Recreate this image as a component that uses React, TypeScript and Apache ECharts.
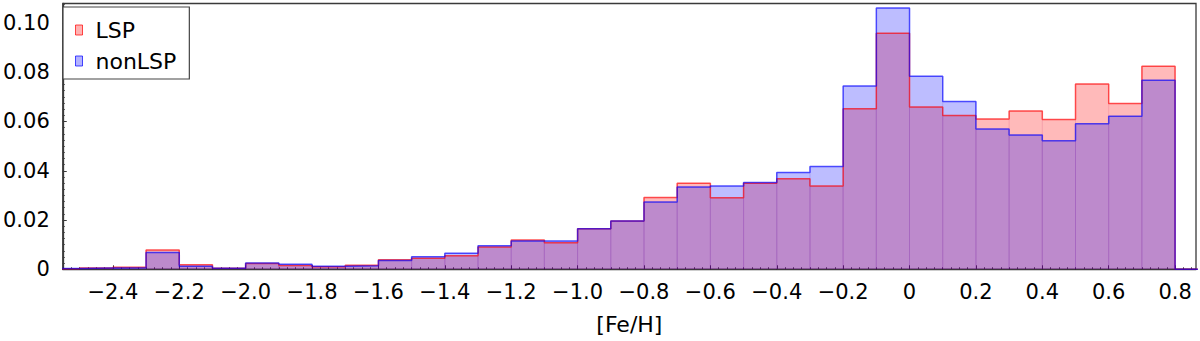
import React, { useEffect, useRef } from "react";
import * as echarts from "echarts";

// Histogram bins: left edges (width 0.1), normalised frequency
const binWidth = 0.1;
const binLeftEdges = [
  -2.6, -2.5, -2.4, -2.3, -2.2, -2.1, -2.0, -1.9, -1.8, -1.7, -1.6, -1.5,
  -1.4, -1.3, -1.2, -1.1, -1.0, -0.9, -0.8, -0.7, -0.6, -0.5, -0.4, -0.3,
  -0.2, -0.1, 0.0, 0.1, 0.2, 0.3, 0.4, 0.5, 0.6, 0.7, 0.8,
];
const lspValues = [
  0.0002, 0.0005, 0.0008, 0.0078, 0.0018, 0.0004, 0.0024, 0.0015, 0.001,
  0.0016, 0.0039, 0.0045, 0.0055, 0.0091, 0.0119, 0.0108, 0.0165, 0.0196,
  0.0291, 0.0349, 0.029, 0.0349, 0.0368, 0.0338, 0.0652, 0.0958, 0.0659,
  0.0624, 0.061, 0.0643, 0.0608, 0.0752, 0.0673, 0.0824, 0,
];
const nonLspValues = [
  0.0003, 0.0005, 0.0006, 0.0068, 0.0012, 0.0004, 0.0026, 0.002, 0.0012,
  0.0014, 0.0036, 0.0051, 0.0065, 0.0096, 0.0115, 0.0115, 0.0165, 0.0196,
  0.0273, 0.0334, 0.0338, 0.0352, 0.0393, 0.0417, 0.0744, 0.1061, 0.0784,
  0.0681, 0.057, 0.0545, 0.0522, 0.0591, 0.0621, 0.0767, 0,
];

const xTickValues = [-2.4, -2.2, -2.0, -1.8, -1.6, -1.4, -1.2, -1.0, -0.8, -0.6, -0.4, -0.2, 0, 0.2, 0.4, 0.6, 0.8];
const yTickValues = [0, 0.02, 0.04, 0.06, 0.08, 0.1];

const X_MIN = -2.551;
const X_MAX = 0.863;
const Y_MIN = 0;
const Y_MAX = 0.1079;

const FONT = "DejaVu Sans";
const AXIS_COLOR = "#3a3a3a";

function fmtX(v: number) {
  if (Math.abs(v) < 1e-9) return "0";
  const s = Math.abs(v).toFixed(1);
  return v < 0 ? "\u2212" + s : s;
}
function fmtY(v: number) {
  if (Math.abs(v) < 1e-12) return "0";
  return v.toFixed(2);
}

function minorTicks(lo: number, hi: number, step: number) {
  const out: number[] = [];
  const start = Math.ceil(lo / step);
  const end = Math.floor(hi / step);
  for (let k = start; k <= end; k++) out.push(+(k * step).toFixed(6));
  return out;
}

function rectSeries(name: string, values: number[], fill: string, stroke: string) {
  return {
    type: "custom",
    name,
    clip: true,
    silent: true,
    encode: { x: [0, 1], y: 2 },
    data: binLeftEdges.map((e, i) => [e, e + binWidth, values[i]]),
    renderItem: (params: any, api: any) => {
      const p0 = api.coord([api.value(0), api.value(2)]);
      const p1 = api.coord([api.value(1), 0]);
      return {
        type: "rect",
        shape: { x: p0[0], y: p0[1], width: p1[0] - p0[0], height: p1[1] - p0[1] },
        style: { fill, stroke, lineWidth: 1 },
      };
    },
  };
}

function stepSeries(name: string, values: number[], color: string) {
  const pts = binLeftEdges.map((e, i) => [e, values[i]]);
  const last = binLeftEdges[binLeftEdges.length - 1];
  pts.push([last + binWidth, values[values.length - 1]]);
  return {
    type: "line",
    name,
    step: "end",
    symbol: "none",
    clip: true,
    data: pts,
    lineStyle: { color, width: 1.5 },
    itemStyle: { color },
  };
}

export default function App() {
  const ref = useRef<HTMLDivElement>(null);
  useEffect(() => {
    if (!ref.current) return;
    const chart = echarts.init(ref.current, null, { renderer: "svg" });
    const axisLine = { show: true, lineStyle: { color: AXIS_COLOR, width: 1.3 } };
    chart.setOption({
      animation: false,
      backgroundColor: "#ffffff",
      textStyle: { fontFamily: FONT },
      grid: {
        left: 58,
        right: 4,
        top: 3.5,
        bottom: 71.7,
        show: true,
        borderColor: AXIS_COLOR,
        borderWidth: 1.3,
        backgroundColor: "transparent",
      },
      legend: {
        show: true,
        orient: "vertical",
        left: 63,
        top: 7,
        padding: [12, 13, 7, 12],
        itemGap: 9,
        itemWidth: 7,
        itemHeight: 10,
        icon: "rect",
        backgroundColor: "#ffffff",
        borderColor: "#444444",
        borderWidth: 1.2,
        textStyle: { fontFamily: FONT, fontSize: 22, color: "#000", lineHeight: 22, padding: [0, 0, 0, 8] },
        data: [
          { name: "LSP", itemStyle: { color: "rgba(255,0,0,0.3)", borderColor: "rgba(255,0,0,0.7)", borderWidth: 1 } },
          { name: "nonLSP", itemStyle: { color: "rgba(0,0,255,0.3)", borderColor: "rgba(0,0,255,0.7)", borderWidth: 1 } },
        ],
      },
      xAxis: [
        {
          type: "value",
          min: X_MIN,
          max: X_MAX,
          name: "[Fe/H]",
          nameLocation: "middle",
          nameGap: 44,
          nameTextStyle: { fontFamily: FONT, fontSize: 22, color: "#000" },
          axisLine: { ...axisLine, onZero: false },
          splitLine: { show: false },
          axisTick: { show: true, inside: true, length: 4, customValues: xTickValues, lineStyle: { color: AXIS_COLOR, width: 1 } },
          axisLabel: {
            show: true,
            customValues: xTickValues,
            formatter: (v: number) => fmtX(v),
            fontFamily: FONT,
            fontSize: 21,
            color: "#000",
            margin: 12,
          },
        },
        {
          type: "value",
          min: X_MIN,
          max: X_MAX,
          position: "bottom",
          axisLine: { show: false, onZero: false },
          splitLine: { show: false },
          axisLabel: { show: false },
          axisTick: {
            show: true,
            inside: true,
            length: 2,
            customValues: minorTicks(X_MIN, X_MAX, 0.025),
            lineStyle: { color: AXIS_COLOR, width: 1 },
          },
        },
      ],
      yAxis: [
        {
          type: "value",
          min: Y_MIN,
          max: Y_MAX,
          axisLine: { ...axisLine, onZero: false },
          splitLine: { show: false },
          axisTick: { show: true, inside: true, length: 4, customValues: yTickValues, lineStyle: { color: AXIS_COLOR, width: 1 } },
          axisLabel: {
            show: true,
            customValues: yTickValues,
            formatter: (v: number) => fmtY(v),
            fontFamily: FONT,
            fontSize: 21,
            color: "#000",
            margin: 13,
          },
        },
        {
          type: "value",
          min: Y_MIN,
          max: Y_MAX,
          position: "left",
          axisLine: { show: false, onZero: false },
          splitLine: { show: false },
          axisLabel: { show: false },
          axisTick: {
            show: true,
            inside: true,
            length: 2,
            customValues: minorTicks(Y_MIN, Y_MAX, 0.0025),
            lineStyle: { color: AXIS_COLOR, width: 1 },
          },
        },
      ],
      series: [
        rectSeries("LSP fill", lspValues, "rgba(255,0,0,0.27)", "rgba(200,0,80,0.08)"),
        stepSeries("LSP", lspValues, "rgba(255,0,0,0.65)"),
        rectSeries("nonLSP fill", nonLspValues, "rgba(0,0,255,0.26)", "rgba(60,0,200,0.08)"),
        stepSeries("nonLSP", nonLspValues, "rgba(0,0,255,0.65)"),
      ],
    });
    return () => chart.dispose();
  }, []);
  return <div ref={ref} style={{ position: "fixed", left: 0, top: 0, width: 1200, height: 341 }} />;
}
